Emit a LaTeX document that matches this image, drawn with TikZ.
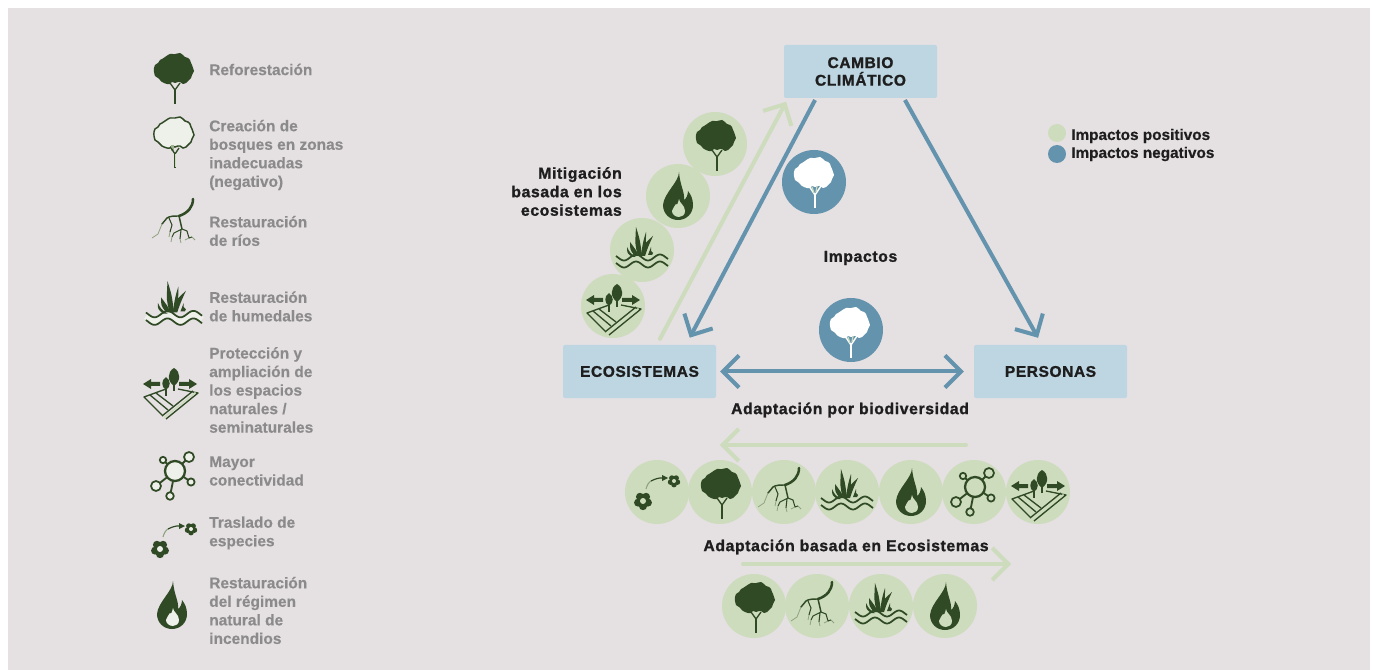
\documentclass[tikz,border=0pt]{standalone}
\usepackage{fontspec}
\usetikzlibrary{arrows.meta}
\setmainfont{Liberation Sans}
\newfontfamily\greyf{Liberation Sans}[UprightFont=* Bold,FakeBold=0.3]
\newfontfamily\blackf{Liberation Sans}[UprightFont=* Bold,FakeBold=1.3,LetterSpace=4]
\newfontfamily\midf{Liberation Sans}[UprightFont=* Bold,FakeBold=0.5]
\definecolor{bgc}{HTML}{E5E0E2}
\definecolor{dkg}{HTML}{2F4A24}
\definecolor{pale}{HTML}{CDDCBD}
\definecolor{lite}{HTML}{EEF0EA}
\definecolor{bluea}{HTML}{6393AD}
\definecolor{boxc}{HTML}{BDD6E2}
\definecolor{greyt}{HTML}{8C8B8C}
\definecolor{blk}{HTML}{1E1E1E}
\pgfdeclarearrow{
  name=OpenV,
  setup code={
    \pgfarrowssettipend{2.1pt}
    \pgfarrowssetlineend{0pt}
    \pgfarrowssetvisualbackend{-12pt}
    \pgfarrowssetbackend{-12pt}
    \pgfarrowsupperhullpoint{-12pt}{12pt}
    \pgfarrowsupperhullpoint{2.1pt}{0pt}
  },
  drawing code={
    \pgfsetlinewidth{3pt}
    \pgfsetdash{}{0pt}
    \pgfsetmiterjoin
    \pgfsetbuttcap
    \pgfpathmoveto{\pgfqpoint{-12pt}{12pt}}
    \pgfpathlineto{\pgfqpoint{0pt}{0pt}}
    \pgfpathlineto{\pgfqpoint{-12pt}{-12pt}}
    \pgfusepathqstroke
  }
}
\def\crownshape{plot[smooth cycle,tension=.2] coordinates {(-10,-22)(-7,-24)(-5,-25)(0,-25)(5,-26)(8,-24)(10,-22)(13,-21)(15,-19)(16,-16)(17,-14)(18,-11)(19,-8)(18,-6)(17,-4)(16,-1)(14,1)(11,4)(8,5)(5,3)(3,3)(0,4)(-3,3)(-5,5)(-8,5)(-11,4)(-13,3)(-15,1)(-17,-1)(-20,-3)(-21,-7)(-21,-11)(-20,-14)(-17,-16)(-15,-19)(-13,-20)}}
\def\flameouter{(1,-24) .. controls (1,-14) and (-14,-3) .. (-15,9) .. controls (-15,18) and (-8,24) .. (0,24) .. controls (8,24) and (15,18) .. (15,9) .. controls (15,3) and (13,-1) .. (10,-5) .. controls (10,-1) and (8,3) .. (6,4) .. controls (7,-4) and (2,-10) .. (1,-24) -- cycle}
\def\flameinner{(1,3) .. controls (1,7) and (7,9) .. (7,15) .. controls (7,19) and (4,21) .. (1,21) .. controls (-3,21) and (-6,18) .. (-6,15) .. controls (-6,12) and (-3,11) .. (-2,8) .. controls (-1,10) and (0,7) .. (1,3) -- cycle}
\tikzset{
 paledisc/.style={circle,fill=pale,minimum size=48pt,inner sep=0pt},
 bluedisc/.style={circle,fill=bluea,minimum size=48pt,inner sep=0pt},
 topic/.style={rectangle,rounded corners=1.5pt,fill=boxc,minimum width=114.75pt,minimum height=39.75pt,inner sep=0pt,align=center,text=blk,font=\blackf\fontsize{11.6}{13.2}\selectfont},
 legendtext/.style={anchor=west,inner sep=0pt,align=left,text=greyt,font=\greyf\fontsize{11.6}{13.9}\selectfont},
 heading/.style={inner sep=0pt,text=blk,font=\blackf\fontsize{11.8}{13.9}\selectfont},
 keytext/.style={anchor=west,inner sep=0pt,text=blk,font=\midf\fontsize{11.5}{13.9}\selectfont},
 keydot/.style={circle,minimum size=13.5pt,inner sep=0pt},
 bluearrow/.style={draw=bluea,line width=3pt,-OpenV},
 greenarrow/.style={draw=pale,line width=3pt,line cap=round,-OpenV},
 pics/treesolid/.style={code={
   \fill[dkg] \crownshape;
   \draw[dkg,line width=1.7pt] (0,25) -- (0,10);
   \draw[dkg,line width=1pt] (0,11) -- (-5,4) (0,11) -- (5,4);
 }},
 pics/treeoutline/.style={code={
   \fill[#1] \crownshape;
   \draw[dkg,line width=1.1pt] \crownshape;
   \fill[pale!70!dkg] (-4,2) rectangle (-1,8);
   \draw[dkg,line width=1.9pt] (0,25) -- (0,10);
   \draw[dkg,line width=1pt] (0,11) -- (-4,5) (0,11) -- (4,5);
   \draw[pale,line width=.6pt] (0,24) -- (0,11);
 }},
 pics/treewhite/.style={code={
   \fill[white] \crownshape;
   \draw[white,line width=1.9pt] (0,25) -- (0,10);
   \draw[white,line width=1.1pt] (0,12) -- (-6,3) (0,12) -- (6,3);
   \draw[pale,line width=.9pt] (-3,4) -- (-1,10) (2,3) -- (1,9);
 }},
 pics/flameicon/.style={code={
   \fill[dkg] \flameouter;
   \fill[#1] \flameinner;
 }},
 pics/rivericon/.style={code={
   \draw[dkg,line width=1.9pt,line cap=round] (15,-24) .. controls (15,-16) and (10,-10) .. (1,-7);
   \draw[dkg,line width=1.1pt,line cap=round] (1,-7) .. controls (-4,-7) and (-8,-7) .. (-11,-5) -- (-16,1);
   \draw[dkg,line width=1.1pt] (1,-7) -- (4,6);
   \draw[dkg,line width=.8pt] (4,6) -- (-4,10) -- (-6,14) (4,6) -- (9,8) -- (11,15) -- (14,14) (-9,-5) -- (-6,2) -- (-8,9) (3,7) -- (2,16);
   \draw[pale!60!dkg,line width=.6pt] (-16,1) -- (-20,11) -- (-26,15) (-6,14) -- (-7,19) (14,14) -- (17,17) (-8,9) -- (-9,14) (2,16) -- (3,20) (11,15) -- (7,17);
 }},
 pics/wetlandicon/.style={code={
   \draw[#1,line width=4.5pt] plot[domain=-26:26,samples=37] (\x,{11+3*sin(\x*15)});
   \draw[dkg,line width=1.3pt] plot[domain=-26:26,samples=37] (\x,{7.5+3*sin(\x*15)});
   \draw[dkg,line width=1.3pt] plot[domain=-26:26,samples=37] (\x,{14.5+3*sin(\x*15)});
   \fill[dkg] (-4,6) .. controls (-7,-5) .. (-6,-23) .. controls (-2,-10) .. (0,6) -- cycle;
   \fill[dkg] (-1,6) .. controls (1,-5) .. (11,-14) .. controls (6,-3) .. (3,6) -- cycle;
   \fill[dkg] (-1,5) .. controls (1,-8) .. (4,-18) .. controls (4,-6) .. (2,5) -- cycle;
   \fill[dkg] (-3,6) .. controls (-6,0) .. (-12,-8) .. controls (-12,0) .. (-7,6) -- cycle;
   \fill[dkg] (-6,7) .. controls (-12,3) .. (-15,-3) .. controls (-15,3) .. (-10,7) -- cycle;
   \fill[dkg] (6,5) -- (9,-3) -- (9,1) -- (11,3) -- (10,5) -- cycle;
 }},
 pics/protecticon/.style={code={
   \fill[dkg] (-27,-6) -- (-19,-11) -- (-19,-8) -- (-10,-8) -- (-10,-4) -- (-19,-4) -- (-19,-1) -- cycle;
   \fill[dkg] (27,-6) -- (19,-11) -- (19,-8) -- (9,-8) -- (9,-4) -- (19,-4) -- (19,-1) -- cycle;
   \fill[dkg] (4,-22) .. controls (11,-18) and (11,-9) .. (4,-4) .. controls (-3,-9) and (-3,-18) .. (4,-22) -- cycle;
   \fill[dkg] (-4,-13) .. controls (1,-10) and (1,-3) .. (-4,0) .. controls (-9,-3) and (-9,-10) .. (-4,-13) -- cycle;
   \draw[dkg,line width=1pt] (4,-8) -- (4,1) (-4,-2) -- (-4,6);
   \draw[dkg,line width=1pt,line join=round] (-4,-1) -- (-26,7) -- (-7,26) (8,-1) -- (28,3) -- (-4,29) (23,1) -- (-8,26);
   \draw[dkg,line width=1pt] (-20,5) -- (-2,20) (-14,3) -- (3,16);
   \draw[#1,line width=1pt] (25.5,2.5) -- (-6,27.5);
 }},
 pics/networkicon/.style={code={
   \draw[dkg,line width=1.4pt] (1,-5) -- (15,-19) (1,-5) -- (-11,-16) (1,-5) -- (17,6) (1,-5) -- (-4,20) (1,-5) -- (-18,10);
   \draw[dkg,line width=1.7pt,fill=#1] (1,-5) circle (10);
   \draw[dkg,line width=1.3pt,fill=#1] (15,-19) circle (5);
   \draw[dkg,line width=1.3pt,fill=#1] (-11,-16) circle (3.2);
   \draw[dkg,line width=1.3pt,fill=#1] (17,6) circle (3.6);
   \draw[dkg,line width=1.3pt,fill=#1] (-4,20) circle (3.8);
   \draw[dkg,line width=1.3pt,fill=#1] (-18,10) circle (5);
 }},
 pics/moveicon/.style={code={
   \foreach \a in {90,162,234,306,18} {
     \fill[dkg] (-14,9) ++(\a:5.2) circle (4);
     \fill[dkg] (17,-11) ++(\a:3.6) circle (2.8);
   }
   \fill[dkg] (-14,9) circle (5);
   \fill[dkg] (17,-11) circle (3.6);
   \fill[#1] (-14,9) circle (3);
   \fill[#1] (17,-11) circle (2);
   \draw[dkg,line width=.9pt] (-6,-11) .. controls (-2,-13) and (2,-14.5) .. (6,-14);
   \draw[pale!60!dkg,line width=.8pt] (-11,-3) .. controls (-10,-7) and (-8,-10) .. (-6,-11);
   \fill[dkg] (11,-14) -- (5,-17) -- (5,-11) -- cycle;
 }},
}
\begin{document}
\begin{tikzpicture}[x=.75pt,y=-.75pt]
\useasboundingbox (0,0) rectangle (1375,670);
\fill[white] (0,0) rectangle (1375,670);
\fill[bgc] (8,8) rectangle (1370,670);
% legend icons
\pic at (175,79) {treesolid};
\pic at (175,143) {treeoutline=lite};
\pic at (178,223) {rivericon};
\pic[scale=1.08] at (174,306) {wetlandicon=lite};
\pic at (170,390) {protecticon=pale};
\pic at (174,476) {networkicon=lite};
\pic at (174,540) {moveicon=lite};
\pic at (172,605) {flameicon=lite};
% legend text
\node[legendtext] (t1) at (209,69.5) {Reforestación};
\node[legendtext] (t2) at (209,155) {Creación de\\bosques en zonas\\inadecuadas\\(negativo)};
\node[legendtext] (t3) at (209,231) {Restauración\\de ríos};
\node[legendtext] (t4) at (209,306.5) {Restauración\\de humedales};
\node[legendtext] (t5) at (209,390) {Protección y\\ampliación de\\los espacios\\naturales /\\seminaturales};
\node[legendtext] (t6) at (209,471) {Mayor\\conectividad};
\node[legendtext] (t7) at (209,533) {Traslado de\\especies};
\node[legendtext] (t8) at (209,610.5) {Restauración\\del régimen\\natural de\\incendios};
% topics
\node[topic] (cambio) at (860.5,71.5) {CAMBIO\\CLIMÁTICO};
\node[topic] (eco) at (639.5,371.5) {ECOSISTEMAS};
\node[topic] (pers) at (1050.5,371.5) {PERSONAS};
% mitigation discs
\node[paledisc] (m1) at (715,144) {};
\node[paledisc] (m2) at (678,196) {};
\node[paledisc] (m3) at (642,250) {};
\node[paledisc] (m4) at (613,306) {};
\pic at (717,146) {treesolid};
\pic at (m2) {flameicon=pale};
\pic at (m3) {wetlandicon=pale};
\pic at (m4) {protecticon=pale};
% impact discs
\node[bluedisc] (b1) at (814,182) {};
\node[bluedisc] (b2) at (851,330) {};
\pic at (815,183) {treewhite};
\pic at (851,333) {treewhite};
% connectors
\draw[greenarrow,shorten <=5pt,shorten >=3pt] ([xshift=13pt]eco.north) -- ([xshift=-54.4pt]cambio.south);
\draw[bluearrow,shorten <=1.5pt,shorten >=6pt] ([xshift=-33.4pt]cambio.south) -- ([xshift=34.9pt]eco.north);
\draw[bluearrow,shorten <=1.5pt,shorten >=6pt] ([xshift=32.6pt]cambio.south) -- ([xshift=-6.4pt]pers.north);
\draw[draw=bluea,line width=3pt,OpenV-OpenV,shorten <=3pt,shorten >=7.5pt] (eco.east) -- (pers.west);
\coordinate (g1s) at (966,445);
\coordinate (g1e) at (720,445);
\coordinate (g2s) at (743,564);
\coordinate (g2e) at (1011,564);
\draw[greenarrow] (g1s) -- (g1e);
\draw[greenarrow] (g2s) -- (g2e);
% headings
\node[heading,anchor=east,align=right] (h1) at (622,191.5) {Mitigación\\basada en los\\ecosistemas};
\node[heading] (h2) at (860.5,258) {Impactos};
\node[heading] (h3) at (850,410) {Adaptación por biodiversidad};
\node[heading] (h4) at (846,547) {Adaptación basada en Ecosistemas};
% key
\node[keydot,fill=pale] (k1) at (1057,133) {};
\node[keydot,fill=bluea] (k2) at (1057,154) {};
\node[keytext] (k1t) at (1071,136) {Impactos positivos};
\node[keytext] (k2t) at (1071,154) {Impactos negativos};
% row 1
\node[paledisc] (r1) at (657,492) {};
\node[paledisc] (r2) at (720,492) {};
\node[paledisc] (r3) at (784,492) {};
\node[paledisc] (r4) at (847,492) {};
\node[paledisc] (r5) at (911,492) {};
\node[paledisc] (r6) at (974,492) {};
\node[paledisc] (r7) at (1038,492) {};
\pic at (r1) {moveicon=pale};
\pic at (722,494) {treesolid};
\pic at (r3) {rivericon};
\pic at (r4) {wetlandicon=pale};
\pic at (r5) {flameicon=pale};
\pic at (r6) {networkicon=pale};
\pic at (r7) {protecticon=pale};
% row 2
\node[paledisc] (s1) at (754,606) {};
\node[paledisc] (s2) at (817,606) {};
\node[paledisc] (s3) at (881,606) {};
\node[paledisc] (s4) at (945,606) {};
\pic at (756,608) {treesolid};
\pic at (s2) {rivericon};
\pic at (s3) {wetlandicon=pale};
\pic at (s4) {flameicon=pale};
\end{tikzpicture}
\end{document}
